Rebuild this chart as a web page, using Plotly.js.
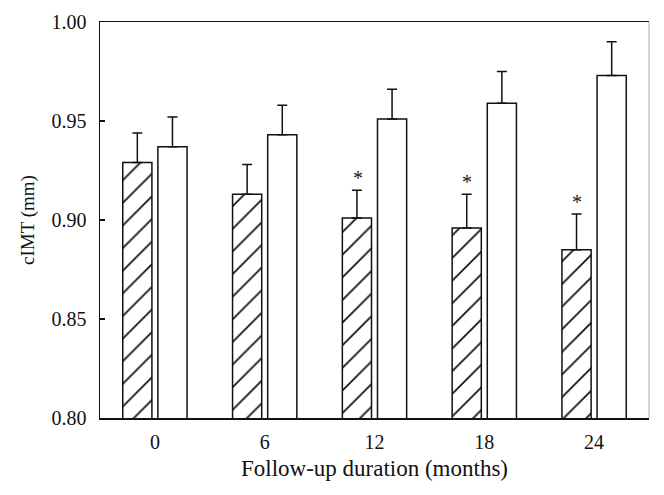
<!DOCTYPE html>
<html>
<head>
<meta charset="utf-8">
<script src="https://cdn.plot.ly/plotly-3.0.1.min.js"></script>
<style>html,body{margin:0;padding:0;background:#fff;} #chart{width:664px;height:495px;}</style>
</head>
<body>
<div id="chart"></div>
<script>
const categories = ["0", "6", "12", "18", "24"];
const treatedMean = [0.929, 0.913, 0.901, 0.896, 0.885];
const treatedErr  = [0.015, 0.015, 0.014, 0.017, 0.018];
const controlMean = [0.937, 0.943, 0.951, 0.959, 0.973];
const controlErr  = [0.015, 0.015, 0.015, 0.016, 0.017];
const significant = [false, false, true, true, true];
const yTicks = [0.80, 0.85, 0.90, 0.95, 1.00];

const serif = "Liberation Serif, Times New Roman, serif";
const zeros = categories.map(() => 0);

const treated = {
  type: "bar", x: categories, y: treatedMean, name: "treated",
  marker: {color: "white", line: {color: "#111", width: 1.5},
           pattern: {shape: "/", size: 16, solidity: 0.11, fgcolor: "#111", bgcolor: "white"}},
  error_y: {type: "data", symmetric: false, array: treatedErr, arrayminus: zeros,
            color: "#111", thickness: 1.5, width: 5},
  showlegend: false
};
const control = {
  type: "bar", x: categories, y: controlMean, name: "control",
  marker: {color: "white", line: {color: "#111", width: 1.5}},
  error_y: {type: "data", symmetric: false, array: controlErr, arrayminus: zeros,
            color: "#111", thickness: 1.5, width: 5},
  showlegend: false
};

const annotations = [];
categories.forEach((c, i) => {
  if (significant[i]) {
    annotations.push({
      x: i, y: treatedMean[i] + treatedErr[i], xref: "x", yref: "y",
      text: "*", showarrow: false, yanchor: "bottom", xshift: -17, yshift: -1,
      font: {family: serif, size: 20, color: "#111"}
    });
  }
});

const layout = {
  width: 664, height: 495,
  margin: {l: 100, r: 15, t: 22, b: 77},
  paper_bgcolor: "white", plot_bgcolor: "white",
  barmode: "group", bargap: 0.36, bargroupgap: 0.17,
  font: {family: serif, color: "#111", size: 20},
  xaxis: {
    type: "category", range: [-0.5, 4.5], autorange: false,
    showgrid: false, zeroline: false,
    showline: true, linecolor: "#111", linewidth: 1.5, mirror: true,
    ticks: "", ticklabelstandoff: 5,
    tickfont: {family: serif, size: 20, color: "#111"},
    title: {text: "Follow-up duration (months)", font: {family: serif, size: 23, color: "#111"}, standoff: 8}
  },
  yaxis: {
    range: [0.80, 1.00], autorange: false, tickvals: yTicks, tickformat: ".2f",
    showgrid: false, zeroline: false,
    showline: true, linecolor: "#111", linewidth: 1.5,
    ticks: "inside", ticklen: 5, tickwidth: 1.5, tickcolor: "#111",
    ticklabelstandoff: 8,
    tickfont: {family: serif, size: 20, color: "#111"},
    title: {text: "cIMT (mm)", font: {family: serif, size: 19, color: "#111"}, standoff: 12}
  },
  shapes: [{type: "line", xref: "paper", yref: "paper", x0: 1, x1: 1, y0: 0, y1: 1,
            line: {color: "#aaa", width: 1}}],
  annotations: annotations
};

Plotly.newPlot("chart", [treated, control], layout, {displayModeBar: false, staticPlot: true});
</script>
</body>
</html>
